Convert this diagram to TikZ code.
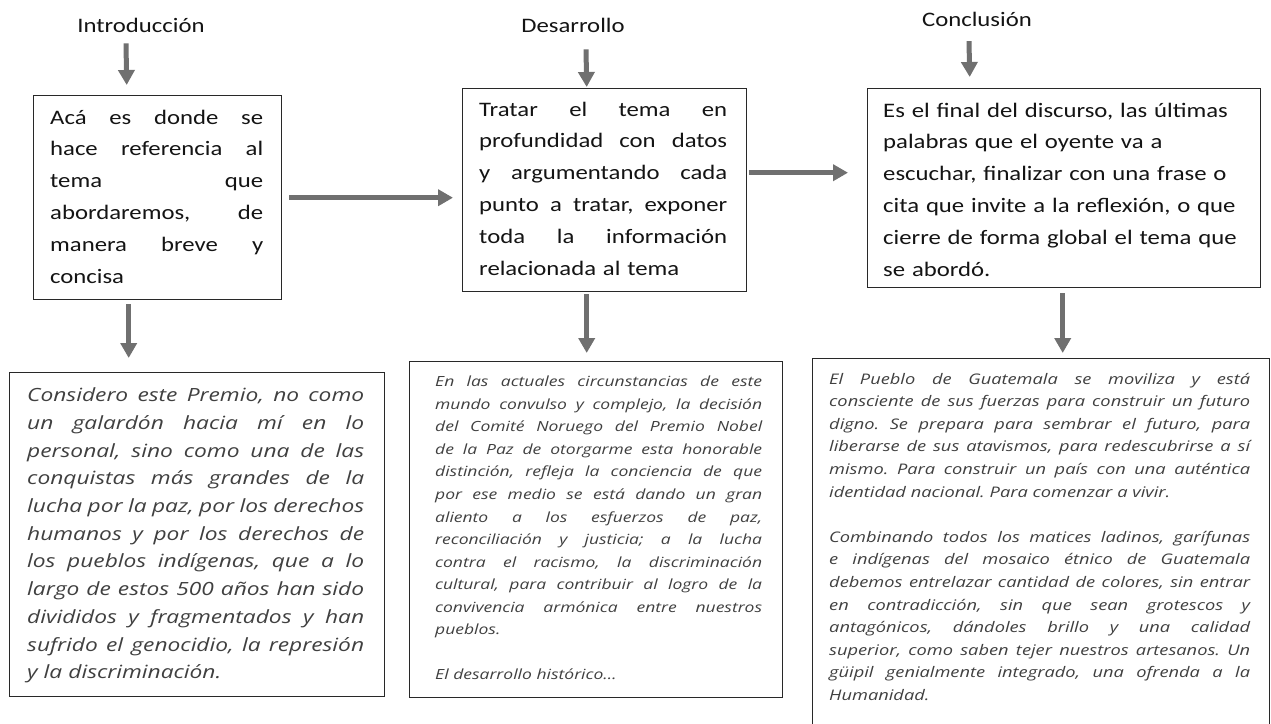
\documentclass[tikz,border=0pt]{standalone}
\usepackage{fontspec}
\usetikzlibrary{arrows.meta}
\newfontfamily\topfont{Carlito}[FakeStretch=1.2]
\newfontfamily\itfont{Open Sans}[FakeStretch=1.25]
\definecolor{arrgray}{RGB}{112,112,112}
\definecolor{boxline}{RGB}{40,40,40}
\definecolor{toptxt}{RGB}{20,20,20}
\definecolor{bottxt}{RGB}{64,64,64}
\def\tw{100pt}
\newcommand{\jl}[1]{\leavevmode\hbox to \tw{\spaceskip=\fontdimen2\font plus 1fil minus \fontdimen4\font\relax #1}}
\frenchspacing
\begin{document}
\begin{tikzpicture}[x=1pt,y=-1pt,
  frame/.style={draw=boxline,line width=1.4pt,anchor=north west,inner sep=0pt},
  lab/.style={anchor=base,inner sep=0pt,text=toptxt,font=\topfont\fontsize{20.6}{24}\selectfont},
  tw/.style={text width=#1pt,execute at begin node={\def\tw{#1pt}}},
  toptext/.style={anchor=base west,inner sep=0pt,align=left,text=toptxt,font=\topfont\fontsize{20.6}{31.8}\selectfont},
  bigit/.style={anchor=base west,inner sep=0pt,align=left,text=bottxt,font=\itfont\itshape\fontsize{18.2}{27.7}\selectfont},
  smallit/.style={anchor=base west,inner sep=0pt,align=left,text=bottxt,font=\itfont\itshape\fontsize{14}{22.55}\selectfont},
  smallitb/.style={smallit,font=\itfont\itshape\fontsize{14.6}{22.6}\selectfont},
  arr/.style={draw=arrgray,line width=5pt,-{Triangle[length=15pt,width=16pt]}}
]
\useasboundingbox[fill=white] (0,0) rectangle (1271,723);

% labels
\node[lab] (lab1) at (141,32) {Introducción};
\node[lab] (lab2) at (573,32) {Desarrollo};
\node[lab] (lab3) at (977,26.7) {Conclusión};

% frames
\node[frame,minimum width=248pt,minimum height=204pt] (b1) at (33,95) {};
\node[frame,minimum width=284pt,minimum height=203pt] (b2) at (462,88) {};
\node[frame,minimum width=393pt,minimum height=199pt] (b3) at (867,88) {};
\node[frame,minimum width=375pt,minimum height=324pt] (b4) at (9,372) {};
\node[frame,minimum width=373pt,minimum height=336pt] (b5) at (409,361) {};
\node[frame,minimum width=457pt,minimum height=382pt] (b6) at (812,358) {};

% top texts
\node[toptext,tw=213] (t1) at (50,124) {%
\jl{Acá es donde se}\\
\jl{hace referencia al}\\
\jl{tema que}\\
\jl{abordaremos, de}\\
\jl{manera breve y}\\
concisa};

\node[toptext,tw=248] (t2) at (479,116) {%
\jl{Tratar el tema en}\\
\jl{profundidad con datos}\\
\jl{y argumentando cada}\\
\jl{punto a tratar, exponer}\\
\jl{toda la información}\\
relacionada al tema};

\node[toptext,tw=370] (t3) at (883,117) {%
Es el final del discurso, las últimas\\
palabras que el oyente va a\\
escuchar, finalizar con una frase o\\
cita que invite a la reflexión, o que\\
cierre de forma global el tema que\\
se abordó.};

% bottom texts
\node[bigit,tw=337] (t4) at (27,401.7) {%
\jl{Considero este Premio, no como}\\
\jl{un galardón hacia mí en lo}\\
\jl{personal, sino como una de las}\\
\jl{conquistas más grandes de la}\\
\jl{lucha por la paz, por los derechos}\\
\jl{humanos y por los derechos de}\\
\jl{los pueblos indígenas, que a lo}\\
\jl{largo de estos 500 años han sido}\\
\jl{divididos y fragmentados y han}\\
\jl{sufrido el genocidio, la represión}\\
y la discriminación.};

\node[smallit,tw=327] (t5) at (435,386.7) {%
\jl{En las actuales circunstancias de este}\\
\jl{mundo convulso y complejo, la decisión}\\
\jl{del Comité Noruego del Premio Nobel}\\
\jl{de la Paz de otorgarme esta honorable}\\
\jl{distinción, refleja la conciencia de que}\\
\jl{por ese medio se está dando un gran}\\
\jl{aliento a los esfuerzos de paz,}\\
\jl{reconciliación y justicia; a la lucha}\\
\jl{contra el racismo, la discriminación}\\
\jl{cultural, para contribuir al logro de la}\\
\jl{convivencia armónica entre nuestros}\\
pueblos.\\[22.55pt]
El desarrollo histórico…};

\node[smallitb,tw=421] (t6) at (829,384) {%
\jl{El Pueblo de Guatemala se moviliza y está}\\
\jl{consciente de sus fuerzas para construir un futuro}\\
\jl{digno. Se prepara para sembrar el futuro, para}\\
\jl{liberarse de sus atavismos, para redescubrirse a sí}\\
\jl{mismo. Para construir un país con una auténtica}\\
identidad nacional. Para comenzar a vivir.\\[22.6pt]
\jl{Combinando todos los matices ladinos, garífunas}\\
\jl{e indígenas del mosaico étnico de Guatemala}\\
\jl{debemos entrelazar cantidad de colores, sin entrar}\\
\jl{en contradicción, sin que sean grotescos y}\\
\jl{antagónicos, dándoles brillo y una calidad}\\
\jl{superior, como saben tejer nuestros artesanos. Un}\\
\jl{güipil genialmente integrado, una ofrenda a la}\\
Humanidad.};

% arrows
\draw[arr] ([xshift=-15pt,yshift=-11pt]lab1.south) -- ([xshift=-31pt,yshift=10pt]b1.north);
\draw[arr] ([xshift=13pt,yshift=-17pt]lab2.south) -- ([xshift=-18pt,yshift=1pt]b2.north);
\draw[arr] ([xshift=-8pt,yshift=-14pt]lab3.south) -- ([xshift=-94.5pt,yshift=11pt]b3.north);
\draw[arr] ([xshift=7pt]b1.east) -- ([xshift=-9pt]b1.east -| b2.west);
\draw[arr] ([xshift=2pt,yshift=17.5pt]b2.east) -- ([xshift=-19pt,yshift=17.5pt]b2.east -| b3.west);
\draw[arr] ([xshift=-29pt,yshift=-4pt]b1.south) -- ([xshift=-29pt,yshift=14pt]b4.north -| b1.south);
\draw[arr] ([xshift=-18pt,yshift=-2pt]b2.south) -- ([xshift=-18pt,yshift=8pt]b5.north -| b2.south);
\draw[arr] ([xshift=-1.5pt,yshift=-5pt]b3.south) -- ([xshift=-1.5pt,yshift=5pt]b6.north -| b3.south);
\end{tikzpicture}
\end{document}
